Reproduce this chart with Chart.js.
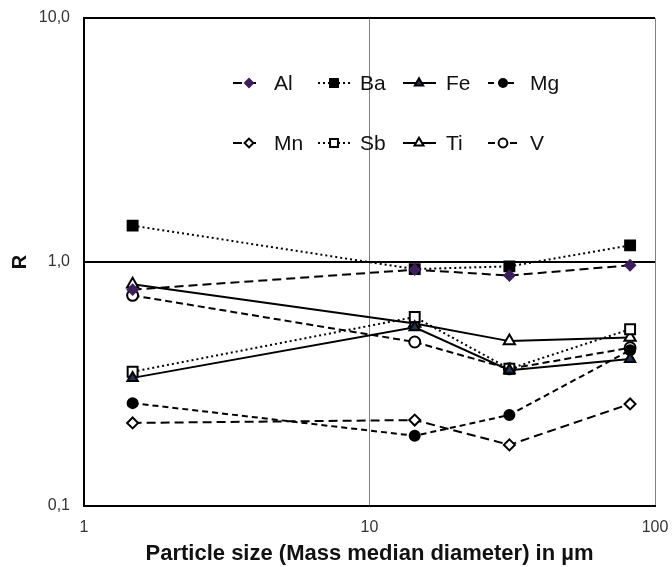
<!DOCTYPE html>
<html>
<head>
<meta charset="utf-8">
<script src="https://cdn.jsdelivr.net/npm/chart.js@4/dist/chart.umd.min.js"></script>
<style>
  html, body { margin: 0; padding: 0; background: #fff; }
  #wrap { width: 672px; height: 567px; }
</style>
</head>
<body>
<div id="wrap"><canvas id="myChart" width="672" height="567"></canvas></div>
<script>
//Data
const sizes = [1.48, 14.4, 30.9, 81.8]
const al = [0.77, 0.93, 0.88, 0.97]
const ba = [1.41, 0.935, 0.96, 1.17]
const fe = [0.335, 0.54, 0.36, 0.40]
const mg = [0.264, 0.194, 0.236, 0.435]
const mn = [0.219, 0.225, 0.178, 0.262]
const sb = [0.355, 0.595, 0.365, 0.53]
const ti = [0.81, 0.56, 0.474, 0.49]
const v = [0.73, 0.47, 0.365, 0.445]
const xTicks = [1, 10, 100]
const yTicks = [0.1, 1, 10]

function pts(values){
  return values.map((y, i) => ({x: sizes[i], y: y}))
}

function series(label, values, dash, style, fill, radius, stroke){
  return {
    label: label,
    data: pts(values),
    borderColor: '#000',
    borderWidth: 2,
    borderDash: dash,
    pointStyle: style,
    pointRadius: radius,
    pointHoverRadius: radius,
    pointBackgroundColor: fill,
    pointBorderColor: stroke || '#000',
    pointBorderWidth: 2,
    tension: 0,
    fill: false,
  }
}

const datasets = [
  series('Al', al, [9, 5], 'rectRot', '#3d1f5c', 5, '#3d1f5c'),
  series('Ba', ba, [2, 3], 'rect', '#000', 7),
  series('Fe', fe, [], 'triangle', '#1f3458', 6),
  series('Mg', mg, [6, 4], 'circle', '#000', 5),
  series('Mn', mn, [9, 5], 'rectRot', '#fff', 5.5),
  series('Sb', sb, [2, 3], 'rect', '#fff', 7),
  series('Ti', ti, [], 'triangle', '#fff', 6.5),
  series('V', v, [7, 4], 'circle', '#fff', 5.5),
]

//Legend drawn inside the plot, 2 rows x 4 columns
const legendCols = [[-35, -19, -8, 6], [50, 66, 82, 92], [135, 151, 168, 178], [220, 235, 250, 262]]
const legendRows = [65, 125]

const insideLegend = {
  id: 'insideLegend',
  afterDatasetsDraw(chart){
    const c = chart.ctx
    const area = chart.chartArea
    const x0 = area.left + 184
    chart.data.datasets.forEach((ds, i) => {
      const col = legendCols[i % 4]
      const y = area.top + legendRows[Math.floor(i / 4)]
      c.save()
      c.strokeStyle = '#000'
      c.lineWidth = 2
      c.setLineDash(ds.borderDash)
      c.beginPath()
      c.moveTo(x0 + col[0], y)
      c.lineTo(x0 + col[2], y)
      c.stroke()
      c.setLineDash([])
      c.fillStyle = ds.pointBackgroundColor
      c.strokeStyle = ds.pointBorderColor
      c.lineWidth = 2
      Chart.helpers.drawPoint(c, {pointStyle: ds.pointStyle, radius: ds.pointRadius * 0.8, borderWidth: 2}, x0 + col[1], y)
      c.fillStyle = '#111'
      c.font = '21px "Liberation Sans", Arial, sans-serif'
      c.textBaseline = 'middle'
      c.textAlign = 'left'
      c.fillText(ds.label, x0 + col[3], y + 1)
      c.restore()
    })
  }
}

var ctx = document.getElementById('myChart')
var myChart = new Chart(ctx, {
  type: 'line',
  data: { datasets: datasets },
  plugins: [insideLegend],
  options: {
    responsive: false,
    animation: false,
    layout: { padding: { top: 18, right: 17, left: 0, bottom: 0 } },
    plugins: {
      legend: { display: false },
      tooltip: { enabled: false },
    },
    scales: {
      x: {
        type: 'logarithmic',
        min: 1,
        max: 100,
        afterBuildTicks: (scale) => { scale.ticks = xTicks.map(t => ({value: t})) },
        afterFit: (scale) => {
          scale.height = 61
          scale.paddingLeft = 0
          scale.paddingRight = 0
        },
        border: { display: true, color: '#000', width: 2 },
        grid: {
          drawTicks: false,
          color: (c) => c.tick && c.tick.value === 1 ? '#000' : '#808080',
          lineWidth: (c) => c.tick && c.tick.value === 1 ? 2 : 1,
        },
        ticks: {
          padding: 12,
          maxRotation: 0,
          autoSkip: false,
          color: '#333',
          font: { family: '"Liberation Sans", Arial, sans-serif', size: 16 },
          callback: (val) => String(val),
        },
        title: {
          display: true,
          text: 'Particle size (Mass median diameter) in µm',
          color: '#111',
          font: { family: '"Liberation Sans", Arial, sans-serif', size: 22, weight: 'bold' },
          padding: { top: 0, bottom: 0 },
        },
      },
      y: {
        type: 'logarithmic',
        min: 0.1,
        max: 10,
        afterBuildTicks: (scale) => { scale.ticks = yTicks.map(t => ({value: t})) },
        afterFit: (scale) => {
          scale.width = 84
          scale.paddingTop = 0
          scale.paddingBottom = 0
        },
        border: { display: true, color: '#000', width: 2 },
        grid: {
          drawTicks: false,
          color: '#000',
          lineWidth: 2,
        },
        ticks: {
          padding: 14,
          autoSkip: false,
          color: '#333',
          font: { family: '"Liberation Sans", Arial, sans-serif', size: 16 },
          callback: (val) => val.toFixed(1).replace('.', ','),
        },
        title: {
          display: true,
          text: 'R',
          color: '#111',
          font: { family: '"Liberation Sans", Arial, sans-serif', size: 20, weight: 'bold' },
          padding: { top: 8, bottom: 0 },
        },
      },
    },
  },
})
</script>
</body>
</html>
